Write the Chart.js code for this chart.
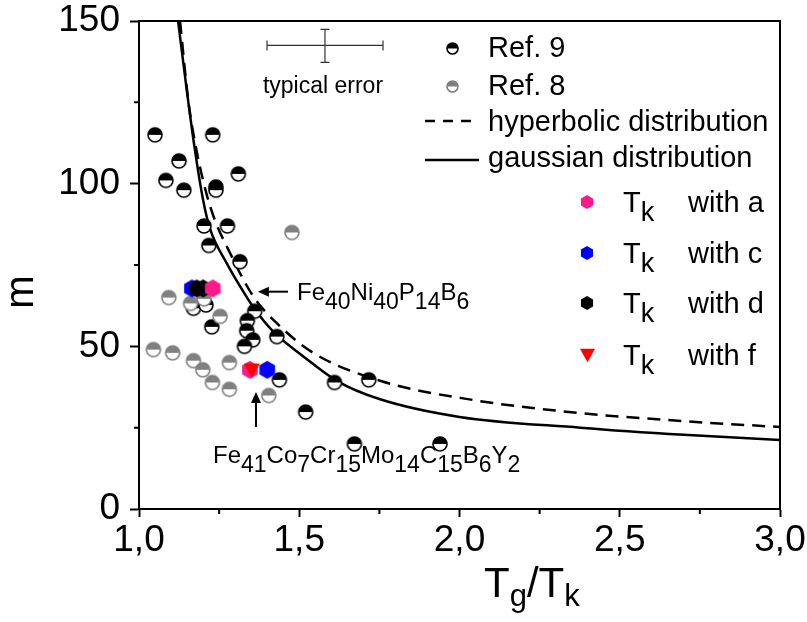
<!DOCTYPE html>
<html>
<head>
<meta charset="utf-8">
<script src="https://cdn.jsdelivr.net/npm/chart.js@4"></script>
<style>
  html, body { margin: 0; padding: 0; background: #fff; }
  #box { width: 807px; height: 622px; }
</style>
</head>
<body>
<div id="box"><canvas id="chart" width="807" height="622"></canvas></div>
<script>
// Ref. 9 (half black circles)
const ref9X = [1.05, 1.084, 1.125, 1.14, 1.23, 1.24, 1.24, 1.31, 1.203, 1.276, 1.218, 1.315, 1.17, 1.209, 1.361, 1.227, 1.338, 1.336, 1.355, 1.43, 1.329, 1.438, 1.61, 1.717, 1.52, 1.672, 1.939];
const ref9Y = [115, 101, 107, 98, 115, 99, 98, 103, 87, 87, 81, 76, 61.7, 62.7, 60.8, 56, 57.9, 54.8, 52, 53, 50, 39.7, 38.9, 39.7, 29.8, 20, 20];
// Ref. 8 (half grey circles)
const ref8X = [1.477, 1.093, 1.203, 1.161, 1.253, 1.045, 1.105, 1.17, 1.282, 1.199, 1.229, 1.282, 1.405];
const ref8Y = [85, 65, 64.6, 63.2, 59.2, 49, 48, 45.6, 45, 42.8, 38.9, 36.8, 34.9];
// Tk with a / c / d / f
const tkAX = [1.23, 1.346];
const tkAY = [67.8, 42.8];
const tkCX = [1.165, 1.40];
const tkCY = [67.8, 42.8];
const tkDX = [1.18, 1.20];
const tkDY = [67.8, 67.8];
const tkFX = [1.352];
const tkFY = [42.5];
// fitted curves
const hyperX = [1.128, 1.154, 1.18, 1.222, 1.29, 1.357, 1.43, 1.545, 1.76, 2.043, 2.376, 2.7, 3.0];
const hyperY = [150, 125.4, 110, 93, 77.5, 65.3, 57.1, 47.9, 39.2, 33.5, 29.5, 27.0, 25.2];
const gaussX = [1.122, 1.15, 1.175, 1.2, 1.222, 1.274, 1.315, 1.357, 1.419, 1.513, 1.617, 1.75, 2.0, 2.376, 2.7, 3.0];
const gaussY = [150, 128, 110, 95, 86, 75.5, 68.5, 62, 54.5, 46.9, 39.4, 33.8, 28.3, 25.0, 22.8, 21.2];
// axes
const xMin = 1, xMax = 3, xStep = 0.25;
const yMin = 0, yMax = 150, yStep = 25;

const FONT = "'Liberation Sans', Arial, sans-serif";

function pts(xs, ys) {
  return xs.map((x, i) => ({x: x, y: ys[i]}));
}

// half filled circle marker
function halfCircle(r, top, edge) {
  const c = document.createElement('canvas');
  const s = Math.ceil(2 * r + 4);
  c.width = c.height = s;
  const g = c.getContext('2d');
  const m = s / 2;
  g.beginPath(); g.arc(m, m, r, 0, 2 * Math.PI); g.fillStyle = '#fff'; g.fill();
  g.beginPath(); g.arc(m, m, r, Math.PI, 2 * Math.PI); g.closePath(); g.fillStyle = top; g.fill();
  g.beginPath(); g.arc(m, m, r, 0, 2 * Math.PI); g.lineWidth = 1.6; g.strokeStyle = edge; g.stroke();
  return c;
}

function hexagon(r, color) {
  const c = document.createElement('canvas');
  const s = Math.ceil(2 * r + 2);
  c.width = c.height = s;
  const g = c.getContext('2d');
  const m = s / 2;
  g.beginPath();
  for (let k = 0; k < 6; k++) {
    const a = Math.PI / 2 + k * Math.PI / 3;
    const px = m + r * Math.cos(a), py = m + r * Math.sin(a);
    if (k === 0) g.moveTo(px, py); else g.lineTo(px, py);
  }
  g.closePath();
  g.fillStyle = color; g.fill();
  return c;
}

function triDown(w, color) {
  const c = document.createElement('canvas');
  const s = Math.ceil(w + 2);
  c.width = c.height = s;
  const g = c.getContext('2d');
  const m = s / 2, h = w * 0.9;
  g.beginPath();
  g.moveTo(m - w / 2, m - h / 2);
  g.lineTo(m + w / 2, m - h / 2);
  g.lineTo(m, m + h / 2);
  g.closePath();
  g.fillStyle = color; g.fill();
  return c;
}

const PINK = '#ff1a8c', BLUE = '#0000ff', RED = '#ff0000', GREY = '#808080';

const icons = {
  ref9: halfCircle(7, '#000', '#000'),
  ref8: halfCircle(7, GREY, GREY),
  a: hexagon(9, PINK),
  c: hexagon(9, BLUE),
  d: hexagon(9, '#000'),
  f: triDown(16, RED),
  ref9s: halfCircle(5.5, '#000', '#000'),
  ref8s: halfCircle(5.5, GREY, GREY),
  as: hexagon(7, PINK),
  cs: hexagon(7, BLUE),
  ds: hexagon(7, '#000'),
  fs: triDown(15, RED)
};

// text with subscripts: parts = [[text, sub], ...]
function drawRich(ctx, x, y, parts, size, subSize, drop) {
  let cx = x;
  parts.forEach(p => {
    ctx.font = (p[1] ? subSize : size) + 'px ' + FONT;
    ctx.fillText(p[0], cx, p[1] ? y + drop : y);
    cx += ctx.measureText(p[0]).width;
  });
  return cx;
}

function arrow(ctx, x1, y1, x2, y2) {
  // from (x1,y1) to tip (x2,y2)
  const ang = Math.atan2(y2 - y1, x2 - x1);
  const hl = 11, hw = 5;
  ctx.beginPath();
  ctx.moveTo(x1, y1);
  ctx.lineTo(x2 - Math.cos(ang) * hl * 0.8, y2 - Math.sin(ang) * hl * 0.8);
  ctx.lineWidth = 2;
  ctx.stroke();
  ctx.beginPath();
  ctx.moveTo(x2, y2);
  ctx.lineTo(x2 - Math.cos(ang) * hl - Math.sin(ang) * hw, y2 - Math.sin(ang) * hl + Math.cos(ang) * hw);
  ctx.lineTo(x2 - Math.cos(ang) * hl + Math.sin(ang) * hw, y2 - Math.sin(ang) * hl - Math.cos(ang) * hw);
  ctx.closePath();
  ctx.fill();
}

const decor = {
  id: 'decor',
  afterDraw(chart) {
    const ctx = chart.ctx;
    const a = chart.chartArea;
    const xs = chart.scales.x, ys = chart.scales.y;
    const X = v => xs.getPixelForValue(v), Y = v => ys.getPixelForValue(v);
    ctx.save();
    ctx.fillStyle = '#000';
    ctx.strokeStyle = '#000';

    // frame
    ctx.lineWidth = 2;
    ctx.strokeRect(a.left, a.top, a.right - a.left, a.bottom - a.top);

    // minor ticks
    ctx.lineWidth = 2;
    ctx.beginPath();
    for (let v = xMin + xStep; v < xMax; v += 2 * xStep) {
      ctx.moveTo(X(v), a.bottom); ctx.lineTo(X(v), a.bottom + 5);
    }
    for (let v = yMin + yStep; v < yMax; v += 2 * yStep) {
      ctx.moveTo(a.left, Y(v)); ctx.lineTo(a.left - 5, Y(v));
    }
    ctx.stroke();

    // typical error bar
    ctx.strokeStyle = '#333';
    ctx.lineWidth = 1.2;
    const ex0 = X(1.3994), ex1 = X(1.7613), exc = X(1.5803);
    const ey = Y(142.5), ey0 = Y(147.4), ey1 = Y(137.3);
    ctx.beginPath();
    ctx.moveTo(ex0, ey); ctx.lineTo(ex1, ey);
    ctx.moveTo(ex0, ey - 5); ctx.lineTo(ex0, ey + 5);
    ctx.moveTo(ex1, ey - 5); ctx.lineTo(ex1, ey + 5);
    ctx.moveTo(exc, ey0); ctx.lineTo(exc, ey1);
    ctx.moveTo(exc - 4.5, ey0); ctx.lineTo(exc + 4.5, ey0);
    ctx.moveTo(exc - 4.5, ey1); ctx.lineTo(exc + 4.5, ey1);
    ctx.stroke();
    ctx.font = '23px ' + FONT;
    ctx.textAlign = 'center';
    ctx.textBaseline = 'alphabetic';
    ctx.fillText('typical error', 323, 93);
    ctx.textAlign = 'left';

    // arrows and compound labels
    ctx.strokeStyle = '#000';
    arrow(ctx, X(1.465), Y(66.8), X(1.371), Y(66.8));
    arrow(ctx, X(1.365), Y(25.2), X(1.365), Y(36));
    drawRich(ctx, 297, 300, [['Fe', 0], ['40', 1], ['Ni', 0], ['40', 1], ['P', 0], ['14', 1], ['B', 0], ['6', 1]], 24, 23, 9);
    drawRich(ctx, 213, 463, [['Fe', 0], ['41', 1], ['Co', 0], ['7', 1], ['Cr', 0], ['15', 1], ['Mo', 0], ['14', 1], ['C', 0], ['15', 1], ['B', 0], ['6', 1], ['Y', 0], ['2', 1]], 24, 23, 9);

    // legend
    const put = (img, x, y) => ctx.drawImage(img, Math.round(x - img.width / 2), Math.round(y - img.height / 2));
    ctx.font = '29px ' + FONT;
    put(icons.ref9s, 452, 48);
    ctx.fillText('Ref. 9', 488, 57);
    put(icons.ref8s, 452, 86);
    ctx.fillText('Ref. 8', 488, 95);
    ctx.lineWidth = 2.5;
    ctx.setLineDash([10, 8]);
    ctx.beginPath(); ctx.moveTo(425, 121); ctx.lineTo(479, 121); ctx.stroke();
    ctx.setLineDash([]);
    ctx.beginPath(); ctx.moveTo(425, 160); ctx.lineTo(479, 160); ctx.stroke();
    ctx.fillText('hyperbolic distribution', 488, 131);
    ctx.fillText('gaussian distribution', 488, 167);
    const rows = [[icons.as, 'a', 202], [icons.cs, 'c', 253], [icons.ds, 'd', 303], [icons.fs, 'f', 355]];
    rows.forEach(r => {
      put(r[0], 587, r[2]);
      drawRich(ctx, 623, r[2] + 10, [['T', 0], ['k', 1]], 29, 27, 9);
      ctx.font = '29px ' + FONT;
      ctx.fillText('with ' + r[1], 688, r[2] + 10);
    });

    // axis titles
    drawRich(ctx, 484, 597, [['T', 0], ['g', 1], ['/T', 0], ['k', 1]], 42, 31, 9);
    ctx.save();
    ctx.translate(33, 292);
    ctx.rotate(-Math.PI / 2);
    ctx.font = '40px ' + FONT;
    ctx.textAlign = 'center';
    ctx.fillText('m', 0, 0);
    ctx.restore();

    ctx.restore();
  }
};

const scatterSet = (xs, ys, icon, extra) => Object.assign({
  data: pts(xs, ys),
  pointStyle: icon,
  pointRadius: 8,
  showLine: false
}, extra || {});

const chart = new Chart(document.getElementById('chart'), {
  type: 'scatter',
  data: {
    datasets: [
      scatterSet(tkFX, tkFY, icons.f),
      scatterSet(tkAX, tkAY, icons.a),
      scatterSet(tkDX, tkDY, icons.d),
      scatterSet(tkCX, tkCY, icons.c),
      scatterSet(ref8X, ref8Y, icons.ref8),
      scatterSet(ref9X, ref9Y, icons.ref9),
      {
        data: pts(hyperX, hyperY),
        showLine: true,
        pointRadius: 0,
        borderColor: '#000',
        borderWidth: 2.5,
        borderDash: [13, 8],
        cubicInterpolationMode: 'monotone'
      },
      {
        data: pts(gaussX, gaussY),
        showLine: true,
        pointRadius: 0,
        borderColor: '#000',
        borderWidth: 2.5,
        cubicInterpolationMode: 'monotone'
      }
    ]
  },
  options: {
    responsive: false,
    animation: false,
    devicePixelRatio: 1,
    events: [],
    layout: {padding: {top: 21, right: 27, left: 0, bottom: 0}},
    plugins: {legend: {display: false}, tooltip: {enabled: false}},
    scales: {
      x: {
        type: 'linear',
        min: xMin, max: xMax,
        afterFit: s => { s.height = 113; s.paddingLeft = 0; s.paddingRight = 0; },
        border: {display: true, color: '#000', width: 2},
        grid: {
          drawOnChartArea: false, drawTicks: true, tickLength: 8, tickWidth: 2,
          tickColor: c => (Math.abs(c.tick.value * 2 - Math.round(c.tick.value * 2)) < 1e-6 ? '#000' : 'rgba(0,0,0,0)')
        },
        ticks: {
          stepSize: xStep, autoSkip: false, maxRotation: 0, padding: 2,
          color: '#000', font: {family: FONT, size: 37},
          callback: v => (Math.abs(v * 2 - Math.round(v * 2)) < 1e-6 ? v.toFixed(1).replace('.', ',') : '')
        }
      },
      y: {
        type: 'linear',
        min: yMin, max: yMax,
        afterFit: s => { s.width = 139; s.paddingTop = 0; s.paddingBottom = 0; },
        border: {display: true, color: '#000', width: 2},
        grid: {
          drawOnChartArea: false, drawTicks: true, tickLength: 9, tickWidth: 2,
          tickColor: c => (c.tick.value % 50 === 0 ? '#000' : 'rgba(0,0,0,0)')
        },
        ticks: {
          stepSize: yStep, autoSkip: false, padding: 10,
          color: '#000', font: {family: FONT, size: 37},
          callback: v => (v % 50 === 0 ? String(v) : '')
        }
      }
    }
  },
  plugins: [decor]
});
</script>
</body>
</html>
